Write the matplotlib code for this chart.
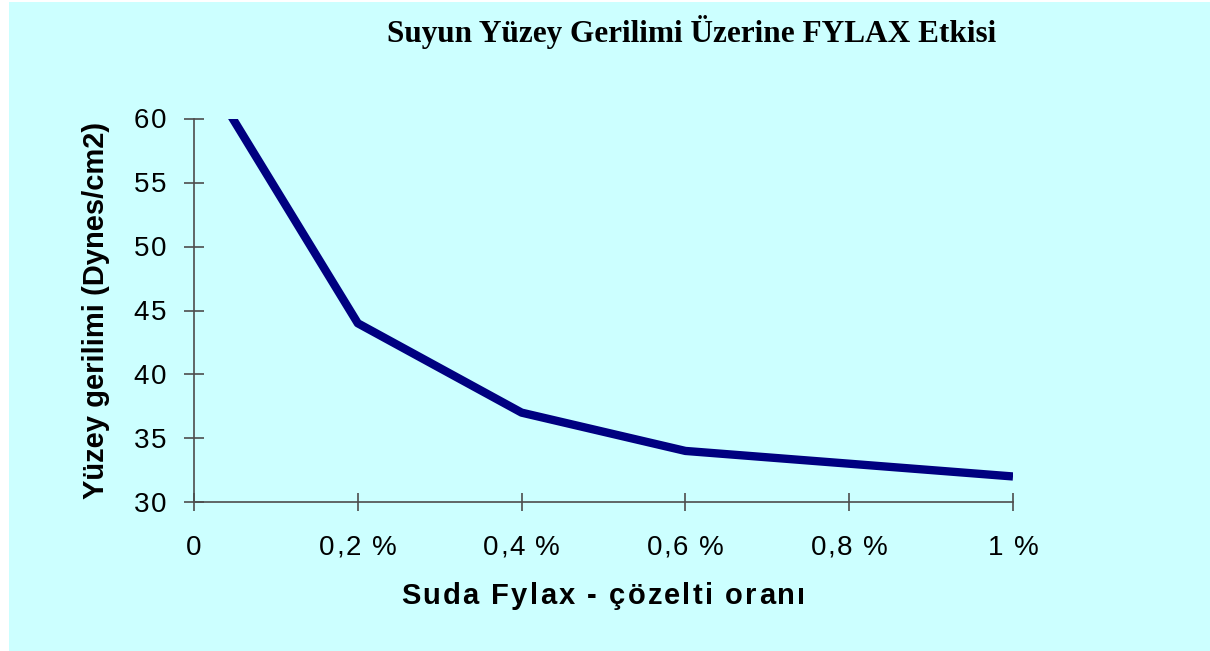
import matplotlib.pyplot as plt
from matplotlib.patches import Rectangle
from matplotlib.transforms import IdentityTransform

# Fylax concentration (%) and surface tension (Dynes/cm2)
oran = [0.0, 0.2, 0.4, 0.6, 0.8, 1.0]
gerilim = [65, 44, 37, 34, 33, 32]
xtick_vals = [0.0, 0.2, 0.4, 0.6, 0.8, 1.0]
xtick_labels = ['0', '0,2 %', '0,4 %', '0,6 %', '0,8 %', '1 %']
ytick_vals = [30, 35, 40, 45, 50, 55, 60]

W, H = 1210, 651
bg = '#CCFFFF'
grey = '#4d4d4d'
fig = plt.figure(figsize=(W / 100, H / 100), dpi=100)
fig.patch.set_facecolor('white')
fig.patches.append(Rectangle((9 / W, 0), 1 - 9 / W, 1 - 2 / H, transform=fig.transFigure,
                             facecolor=bg, edgecolor='none', zorder=-10))

ax = fig.add_axes([194 / W, 149 / H, 819 / W, 383 / H])
ax.set_facecolor(bg)
ax.plot(oran, gerilim, color='#000080', lw=6, solid_capstyle='butt')
ax.set_xlim(0, 1)
ax.set_ylim(30, 60)

for s in ['top', 'right']:
    ax.spines[s].set_visible(False)
for s in ['left', 'bottom']:
    ax.spines[s].set_color(grey)
    ax.spines[s].set_linewidth(1.2)

ax.set_xticks(xtick_vals)
ax.set_yticks(ytick_vals)
ax.set_xticklabels([])
ax.set_yticklabels([])
ax.tick_params(axis='x', direction='inout', length=13, width=1.2, color=grey)
ax.tick_params(axis='y', direction='inout', length=14, width=1.2, color=grey)

renderer = fig.canvas.get_renderer()
ident = IdentityTransform()


def spaced(s, x, y, gap=None, width=None, ha='center', **kw):
    # letter-spaced text, x/y in display pixels
    def w(t):
        tt = fig.text(0, 0, t, **kw)
        e = tt.get_window_extent(renderer).width
        tt.remove()
        return e
    base = w('II')
    adv = [w('I' + c + 'I') - base for c in s]
    if width is not None:
        gap = (width - sum(adv)) / max(len(s) - 1, 1)
    total = sum(adv) + gap * (len(s) - 1)
    cur = x - total / 2 if ha == 'center' else (x - total if ha == 'right' else x)
    for c, a in zip(s, adv):
        if c != ' ':
            fig.text(cur, y, c, ha='left', va='baseline', transform=ident, **kw)
        cur += a + gap


tick_font = dict(fontfamily='Liberation Sans', fontsize=20)
for v, lab in zip(xtick_vals, xtick_labels):
    px = ax.transData.transform((v, 30))[0]
    spaced(lab, px, H - 555, gap=1.5, **tick_font)
for v in ytick_vals:
    py = ax.transData.transform((0, v))[1]
    spaced(str(v), 166, py - 9.5, gap=1.5, ha='right', **tick_font)

spaced('Suda Fylax - çözelti oranı', 603, H - 604, width=404,
       fontfamily='Liberation Sans', fontweight='bold', fontsize=21)
fig.text(96, H - 310, 'Yüzey gerilimi (Dynes/cm2)', rotation=90, ha='center', va='center',
         transform=ident, fontfamily='Liberation Sans', fontweight='bold', fontsize=21)
fig.text(692, H - 42, 'Suyun Yüzey Gerilimi Üzerine FYLAX Etkisi', ha='center', va='baseline',
         transform=ident, fontfamily='Liberation Serif', fontweight='bold', fontsize=22.5)

fig.savefig('out.png', dpi=100, facecolor=fig.get_facecolor())
